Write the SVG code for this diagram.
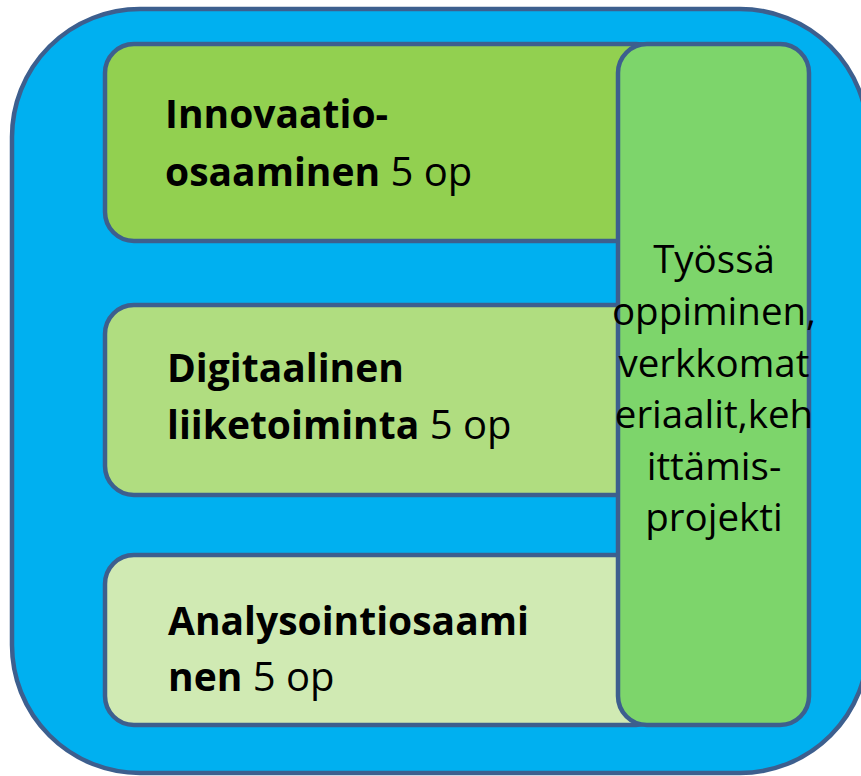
<svg xmlns="http://www.w3.org/2000/svg" width="861" height="776" viewBox="0 0 861 776">
<style>
.box{stroke:#3D5F8E;stroke-width:4.5}
.t{font-family:"Open Sans","Liberation Sans",sans-serif;font-size:40px;fill:#000}
.b{font-weight:bold;font-size:39px}
.r{font-family:"Open Sans","Liberation Sans",sans-serif;font-size:38.5px;fill:#000;text-anchor:middle}
</style>
<rect width="861" height="776" fill="#ffffff"/>
<g id="outer"><rect class="box" x="12" y="9" width="856" height="764" rx="128" ry="128" fill="#00B0F0"/></g>
<g id="innovaatio">
<rect class="box" x="105" y="44" width="560" height="197" rx="29" fill="#92D050"/>
<text class="t b" x="165" y="128">Innovaatio-</text>
<text class="t" x="165" y="186"><tspan class="b">osaaminen</tspan> 5 op</text>
</g>
<g id="digitaalinen">
<rect class="box" x="105" y="305" width="560" height="190" rx="29" fill="#B0DD80"/>
<text class="t b" x="167" y="382">Digitaalinen</text>
<text class="t" x="167" y="439"><tspan class="b">liiketoiminta</tspan> 5 op</text>
</g>
<g id="analysointi">
<rect class="box" x="105" y="555" width="560" height="170" rx="29" fill="#D0EAB3"/>
<text class="t b" x="168" y="635">Analysointiosaami</text>
<text class="t" x="168" y="691"><tspan class="b">nen</tspan> 5 op</text>
</g>
<g id="tyossa">
<rect class="box" x="618" y="44" width="191" height="681" rx="29" fill="#7DD56B"/>
<text class="r" x="714" y="273">Työssä</text>
<text class="r" x="714" y="325">oppiminen,</text>
<text class="r" x="714" y="377">verkkomat</text>
<text class="r" x="714" y="428">eriaalit,keh</text>
<text class="r" x="714" y="480">ittämis-</text>
<text class="r" x="714" y="531">projekti</text>
</g>
<g id="connectors"></g>
</svg>
